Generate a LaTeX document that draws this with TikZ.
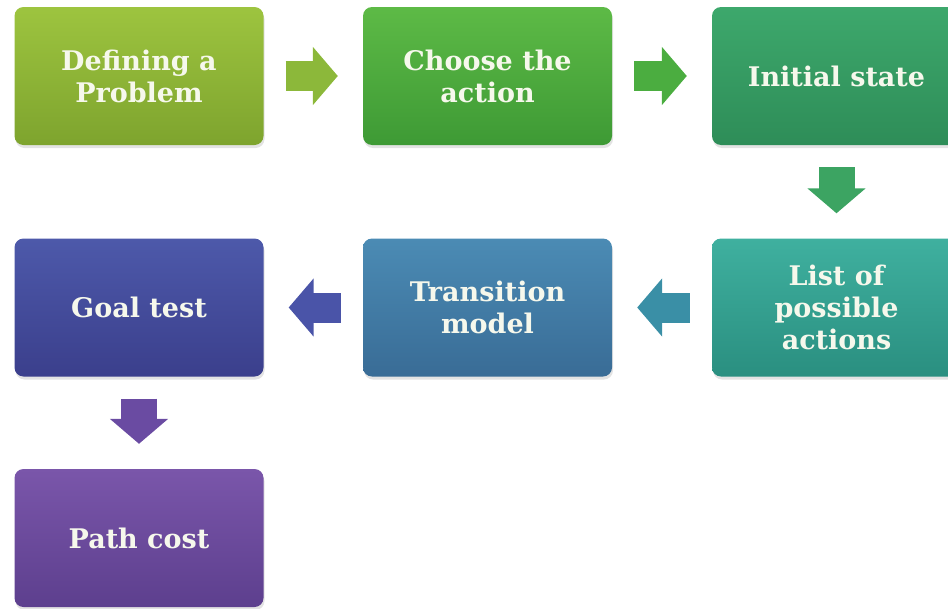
\documentclass[tikz,border=0pt]{standalone}
\usepackage{fontspec}
\setmainfont{DejaVu Serif}
\usetikzlibrary{arrows.meta, shadows}

\definecolor{oliveTop}{HTML}{9DC43F}
\definecolor{oliveBot}{HTML}{7EA42E}
\definecolor{greenTop}{HTML}{5DBA46}
\definecolor{greenBot}{HTML}{3E9A35}
\definecolor{jadeTop}{HTML}{3DA86C}
\definecolor{jadeBot}{HTML}{2E8D58}
\definecolor{tealTop}{HTML}{3FB09F}
\definecolor{tealBot}{HTML}{2A8F80}
\definecolor{steelTop}{HTML}{4B8BB4}
\definecolor{steelBot}{HTML}{396C96}
\definecolor{indigoTop}{HTML}{4D59AA}
\definecolor{indigoBot}{HTML}{3B3F8C}
\definecolor{plumTop}{HTML}{7A56AA}
\definecolor{plumBot}{HTML}{5D3F8E}
\definecolor{labelText}{HTML}{F6F8EC}
% arrow colours
\definecolor{oliveArrow}{HTML}{8CB83A}
\definecolor{greenArrow}{HTML}{4BAD40}
\definecolor{jadeArrow}{HTML}{3CA462}
\definecolor{tealArrow}{HTML}{3A8FA6}
\definecolor{indigoArrow}{HTML}{4A54A8}
\definecolor{plumArrow}{HTML}{6A4BA2}

\tikzset{
  stepbox/.style={rounded corners=9pt, minimum width=249pt, minimum height=138pt,
    align=center, text=labelText, font=\bfseries\fontsize{27}{32}\selectfont,
    drop shadow={opacity=0.22, shadow xshift=1pt, shadow yshift=-3pt}},
  flowarrow/.style={line width=30pt, -{Triangle[length=25pt, width=57pt]},
    shorten <=22pt, shorten >=25pt}
}

\begin{document}
\begin{tikzpicture}[x=1pt, y=-1pt]
	\useasboundingbox (0,0) rectangle (948,608);

	% Top row of steps
	\node[stepbox, top color=oliveTop, bottom color=oliveBot] (define) at (139,76) {Defining a\\Problem};
	\node[stepbox, top color=greenTop, bottom color=greenBot] (choose) at (487.5,76) {Choose the\\action};
	\node[stepbox, top color=jadeTop, bottom color=jadeBot] (initial) at (836.5,76) {Initial state};

	% Middle row, read from right to left
	\node[stepbox, top color=tealTop, bottom color=tealBot] (actions) at (836.5,307.5) {List of\\possible\\actions};
	\node[stepbox, top color=steelTop, bottom color=steelBot] (transition) at (487.5,307.5) {Transition\\model};
	\node[stepbox, top color=indigoTop, bottom color=indigoBot] (goal) at (139,307.5) {Goal test};

	% Last step
	\node[stepbox, top color=plumTop, bottom color=plumBot] (cost) at (139,538) {Path cost};

	% Block arrows between the steps
	\draw[flowarrow, draw=oliveArrow] (define.east) -- (choose.west);
	\draw[flowarrow, draw=greenArrow] (choose.east) -- (initial.west);
	\draw[flowarrow, line width=36pt, draw=jadeArrow] (initial.south) -- (actions.north);
	\draw[flowarrow, draw=tealArrow] (actions.west) -- (transition.east);
	\draw[flowarrow, draw=indigoArrow] (transition.west) -- (goal.east);
	\draw[flowarrow, line width=36pt, draw=plumArrow] (goal.south) -- (cost.north);
\end{tikzpicture}
\end{document}
